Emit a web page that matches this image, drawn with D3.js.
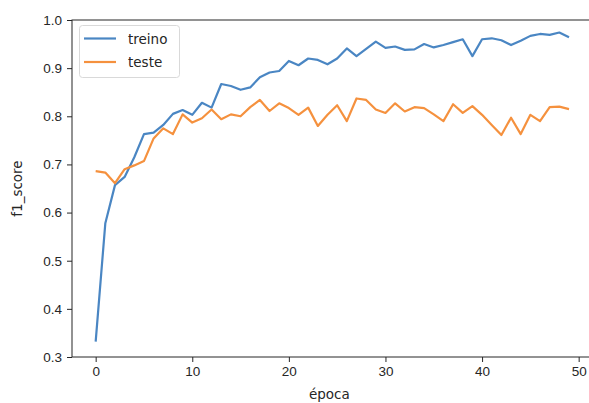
<!DOCTYPE html>
<html>
<head>
<meta charset="utf-8">
<script src="https://cdn.jsdelivr.net/npm/d3@7"></script>
<style>
    body { margin: 0; background: white; }
    svg { display: block; font-family: "DejaVu Sans", sans-serif; }
    .axis text { font-size: 13.5px; fill: #262626; }
    .axis path, .axis line { stroke: #262626; }
</style>
</head>
<body>
<div id="chart"></div>
<script>
// f1_score per epoch
const treino = [0.332, 0.578, 0.657, 0.674, 0.715, 0.763, 0.766, 0.782, 0.805, 0.813,
    0.803, 0.828, 0.818, 0.867, 0.863, 0.855, 0.86, 0.881, 0.891, 0.894,
    0.915, 0.906, 0.92, 0.917, 0.908, 0.92, 0.941, 0.925, 0.94, 0.955,
    0.942, 0.945, 0.938, 0.939, 0.95, 0.943, 0.948, 0.954, 0.96, 0.925,
    0.96, 0.962, 0.958, 0.948, 0.957, 0.967, 0.971, 0.969, 0.974, 0.964]
const teste = [0.686, 0.683, 0.661, 0.69, 0.698, 0.707, 0.754, 0.775, 0.763, 0.804,
    0.787, 0.796, 0.814, 0.794, 0.804, 0.80, 0.819, 0.834, 0.811, 0.827,
    0.817, 0.803, 0.818, 0.78, 0.803, 0.823, 0.79, 0.837, 0.834, 0.814,
    0.807, 0.827, 0.81, 0.819, 0.817, 0.804, 0.79, 0.825, 0.807, 0.821,
    0.803, 0.782, 0.761, 0.797, 0.763, 0.803, 0.79, 0.819, 0.82, 0.815]
const xTicks = [0, 10, 20, 30, 40, 50]
const yTicks = [0.3, 0.4, 0.5, 0.6, 0.7, 0.8, 0.9, 1.0]
const seriesNames = ["treino", "teste"]
const colors = ["#4a86c3", "#f5913e"]

const width = 589,
    height = 403,
    margin = { top: 20, left: 72 }

const xScale = d3.scaleLinear()
    .domain([-2.45, 51.45])
    .range([margin.left, margin.left + 53.9 * 9.66])

const yScale = d3.scaleLinear()
    .domain([0.3, 1.0])
    .range([357, margin.top])

const svg = d3.select("#chart")
    .append("svg")
    .attr("width", width)
    .attr("height", height)

// frame
svg.append("rect")
    .attr("x", xScale.range()[0])
    .attr("y", yScale.range()[1])
    .attr("width", xScale.range()[1] - xScale.range()[0])
    .attr("height", yScale.range()[0] - yScale.range()[1])
    .attr("fill", "none")
    .attr("stroke", "#262626")
    .attr("stroke-width", 1)

const line = d3.line()
    .x((d, i) => xScale(i))
    .y(d => yScale(d))

svg.selectAll("path.series")
    .data([treino, teste])
    .join("path")
    .attr("class", "series")
    .attr("d", line)
    .attr("fill", "none")
    .attr("stroke", (d, i) => colors[i])
    .attr("stroke-width", 2.2)
    .attr("stroke-linejoin", "round")

svg.append("g")
    .attr("class", "axis")
    .attr("transform", `translate(0,${yScale.range()[0]})`)
    .call(d3.axisBottom(xScale).tickValues(xTicks).tickSize(5).tickPadding(4))
    .call(g => g.select(".domain").remove())

svg.append("g")
    .attr("class", "axis")
    .attr("transform", `translate(${margin.left},0)`)
    .call(d3.axisLeft(yScale).tickValues(yTicks).tickFormat(d3.format(".1f")).tickSize(5).tickPadding(5))
    .call(g => g.select(".domain").remove())

svg.append("text")
    .attr("x", (xScale.range()[0] + xScale.range()[1]) / 2 - 3)
    .attr("y", 399)
    .attr("text-anchor", "middle")
    .attr("font-size", 13.5)
    .attr("fill", "#262626")
    .text("época")

svg.append("text")
    .attr("transform", `translate(22,${(yScale.range()[0] + yScale.range()[1]) / 2}) rotate(-90)`)
    .attr("text-anchor", "middle")
    .attr("font-size", 13.5)
    .attr("fill", "#262626")
    .text("f1_score")

// legend
svg.append("rect")
    .attr("x", 79.5)
    .attr("y", 25.5)
    .attr("width", 100)
    .attr("height", 52)
    .attr("rx", 3)
    .attr("fill", "white")
    .attr("fill-opacity", 0.8)
    .attr("stroke", "#d9d9d9")
seriesNames.forEach((name, i) => {
    const y = 38.5 + i * 23.5
    svg.append("line")
        .attr("x1", 84).attr("x2", 116)
        .attr("y1", y).attr("y2", y)
        .attr("stroke", colors[i])
        .attr("stroke-width", 2.2)
    svg.append("text")
        .attr("x", 128)
        .attr("y", y + 5)
        .attr("font-size", 13.5)
        .attr("fill", "#262626")
        .text(name)
})
</script>
</body>
</html>
